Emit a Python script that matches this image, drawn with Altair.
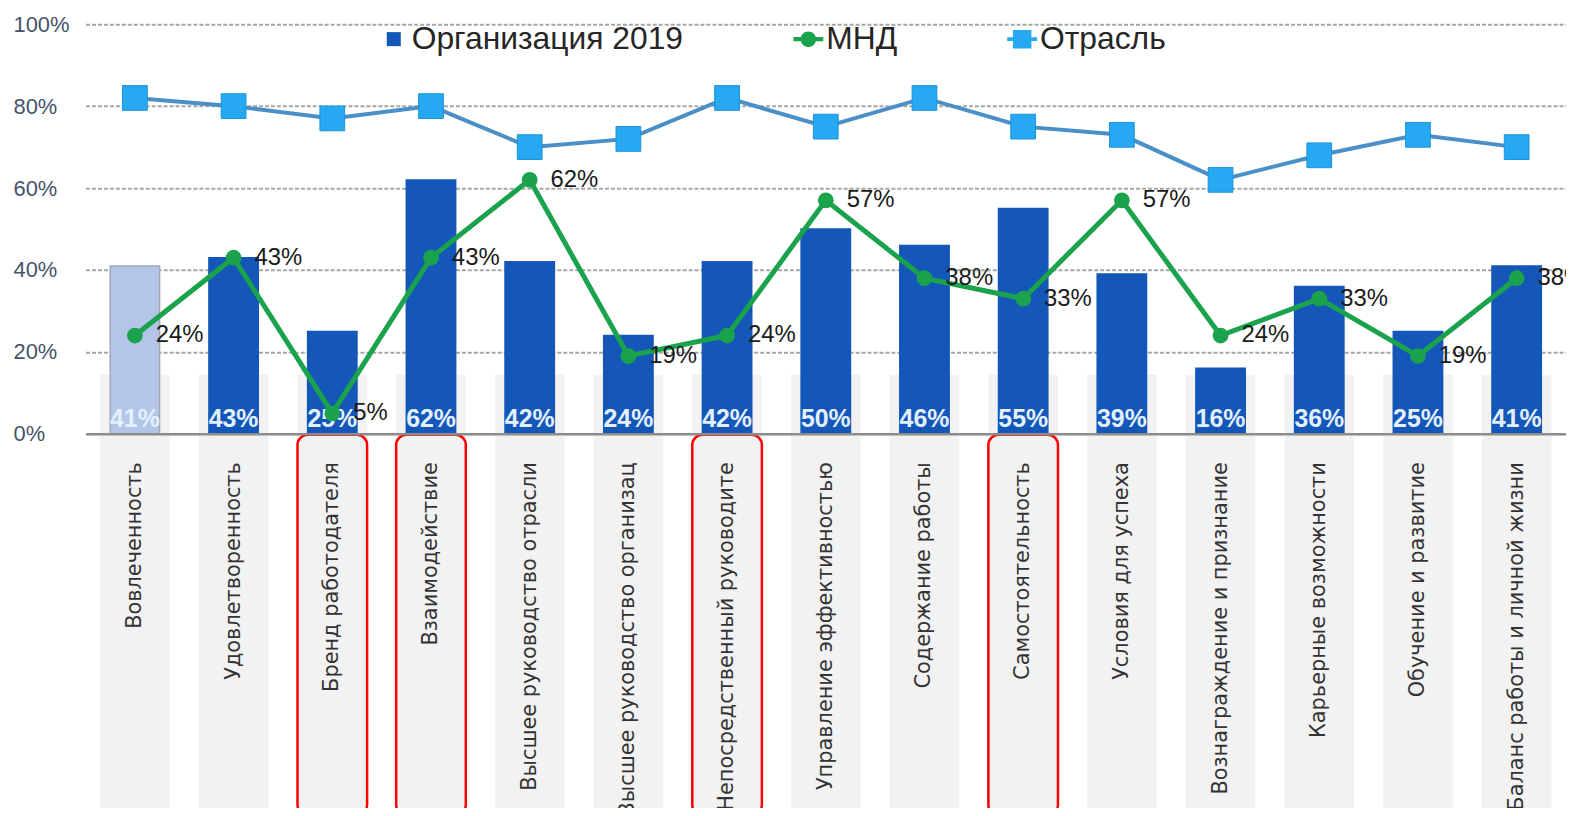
import altair as alt
import pandas as pd

categories = [
    "Вовлеченность",
    "Удовлетворенность",
    "Бренд работодателя",
    "Взаимодействие",
    "Высшее руководство отрасли",
    "Высшее руководство организац",
    "Непосредственный руководите",
    "Управление эффективностью",
    "Содержание работы",
    "Самостоятельность",
    "Условия для успеха",
    "Вознаграждение и признание",
    "Карьерные возможности",
    "Обучение и развитие",
    "Баланс работы и личной жизни",
]
org_2019 = [41, 43, 25, 62, 42, 24, 42, 50, 46, 55, 39, 16, 36, 25, 41]
mnd = [24, 43, 5, 43, 62, 19, 24, 57, 38, 33, 57, 24, 33, 19, 38]
industry = [82, 80, 77, 80, 70, 72, 82, 75, 82, 75, 73, 62, 68, 73, 70]
highlighted = [0, 0, 1, 1, 0, 0, 1, 0, 0, 1, 0, 0, 0, 0, 0]
series_names = ["Организация 2019", "МНД", "Отрасль"]
y_ticks = [0, 20, 40, 60, 80, 100]

df = pd.DataFrame({
    "idx": list(range(len(categories))),
    "cat": categories,
    "org": org_2019,
    "mnd": mnd,
    "ind": industry,
    "hl": highlighted,
})
df["org_lbl"] = df["org"].astype(str) + "%"
df["mnd_lbl"] = df["mnd"].astype(str) + "%"

NARROW = "Liberation Sans Narrow, Arial Narrow, Liberation Sans, sans-serif"
DARK_BLUE = "#1457b8"
LIGHT_BAR = "#b4c6e7"
GREEN = "#1aa24c"
SQ_BLUE = "#26a8f2"
LINE_BLUE = "#4a8fc6"

x_enc = alt.X(
    "cat:N",
    sort=categories,
    scale=alt.Scale(paddingInner=0.5, paddingOuter=0.25),
    axis=alt.Axis(
        title=None, labelAngle=-90, ticks=False, tickSize=0,
        labelFont="DejaVu Sans", labelFontSize=21, labelColor="#333333",
        labelPadding=28, labelLimit=800,
        domainColor="#8c8c8c", domainWidth=2.5, zindex=1,
    ),
)
x_plain = alt.X("cat:N", sort=categories)
y_scale = alt.Scale(domain=[0, 100], nice=False)
y_axis = alt.Axis(
    values=y_ticks, labelExpr="datum.value + '%'", title=None,
    domain=False, ticks=False, tickSize=0,
    labelAlign="left", labelPadding=73,
    labelFont="Liberation Sans", labelFontSize=22, labelColor="#44546a",
    grid=True, gridColor="#a6a6a6", gridDash=[4, 2], gridWidth=2, zindex=0,
)

base = alt.Chart(df)

gray = base.mark_bar(width=70, color="#f2f2f2").encode(
    x=x_enc, y=alt.Y(datum=14.4, scale=y_scale, axis=y_axis), y2=alt.datum(-100)
)

red = base.transform_filter("datum.hl == 1").mark_bar(
    width=70, fillOpacity=0, stroke="#ff0000", strokeWidth=2.5, cornerRadius=10
).encode(x=x_plain, y=alt.datum(-0.25), y2=alt.datum(-93))

bars = base.mark_bar(strokeWidth=1.5).encode(
    x=x_plain,
    y="org:Q",
    color=alt.condition("datum.idx == 0", alt.value(LIGHT_BAR), alt.value(DARK_BLUE)),
    stroke=alt.condition("datum.idx == 0", alt.value("#a0a8b8"), alt.value(DARK_BLUE)),
)

bar_labels = base.mark_text(
    font=NARROW, fontSize=25, fontWeight="bold", color="#e3f0ff",
    baseline="alphabetic", dy=-7,
).encode(x=x_plain, y=alt.datum(0), text="org_lbl:N")

ind_line = base.mark_line(color=LINE_BLUE, strokeWidth=4).encode(x=x_plain, y="ind:Q")
ind_pts = base.mark_point(
    shape="square", filled=True, size=620, color=SQ_BLUE, opacity=1,
    stroke="#1d93d8", strokeWidth=1,
).encode(x=x_plain, y="ind:Q")

mnd_line = base.mark_line(color=GREEN, strokeWidth=5).encode(x=x_plain, y="mnd:Q")
mnd_pts = base.mark_circle(size=250, color=GREEN, opacity=1).encode(x=x_plain, y="mnd:Q")
mnd_labels = base.mark_text(
    font=NARROW, fontSize=24, color="#1a1a1a", align="left", baseline="middle", dx=21,
).encode(x=x_plain, y="mnd:Q", text="mnd_lbl:N")

sym_org = "M-0.47,-0.47 L0.47,-0.47 L0.47,0.47 L-0.47,0.47 Z"
sym_mnd = ("M-1,-0.15 L1,-0.15 L1,0.15 L-1,0.15 Z "
           "M-0.52,0 A0.52,0.52 0 1,1 0.52,0 A0.52,0.52 0 1,1 -0.52,0 Z")
sym_ind = ("M-1,-0.12 L1,-0.12 L1,0.12 L-1,0.12 Z "
           "M-0.62,-0.62 L0.62,-0.62 L0.62,0.62 L-0.62,0.62 Z")

legend_params = dict(
    title=None, orient="none", legendX=294, legendY=-1, direction="horizontal",
    columns=3, columnPadding=109, padding=0, labelFont=NARROW, labelFontSize=32,
    labelColor="#262626", symbolSize=900, labelOffset=2, symbolStrokeWidth=0,
    labelLimit=600,
)
legend_df = pd.DataFrame({"series": series_names})
legend_layer = alt.Chart(legend_df).transform_filter("false").mark_point(
    filled=True, opacity=1
).encode(
    color=alt.Color("series:N", sort=series_names,
                    scale=alt.Scale(domain=series_names, range=[DARK_BLUE, GREEN, SQ_BLUE]),
                    legend=alt.Legend(**legend_params)),
    shape=alt.Shape("series:N", sort=series_names,
                    scale=alt.Scale(domain=series_names, range=[sym_org, sym_mnd, sym_ind]),
                    legend=alt.Legend(**legend_params)),
)

chart = alt.layer(
    gray, red, bars, bar_labels, ind_line, ind_pts, mnd_line, mnd_pts, mnd_labels, legend_layer
).properties(
    width=1489, height=412,
    autosize=alt.AutoSizeParams(type="none"),
    padding={"left": 78, "top": 14, "right": 0, "bottom": 374},
).configure_view(strokeWidth=0)

chart.save("out.html", embed_options={"renderer": "svg", "actions": False})
